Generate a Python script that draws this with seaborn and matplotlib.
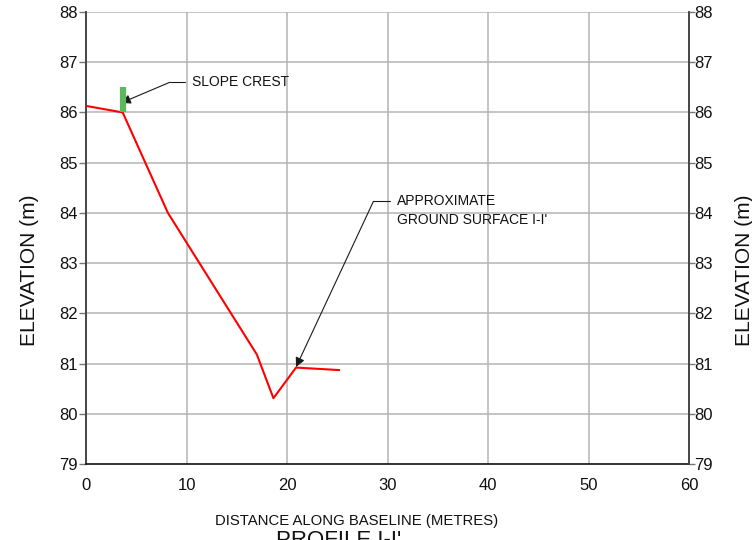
import matplotlib
matplotlib.use("Agg")
import matplotlib.pyplot as plt
import seaborn as sns
import pandas as pd

# ground surface profile I-I'
distance = [0.0, 3.65, 8.15, 17.0, 18.65, 20.9, 25.2]
elevation = [86.13, 86.0, 84.0, 81.18, 80.31, 80.92, 80.87]

# slope crest marker
crest_x = [3.65]
crest_bottom = [86.0]
crest_top = [86.5]

x_ticks = [0, 10, 20, 30, 40, 50, 60]
y_ticks = [79, 80, 81, 82, 83, 84, 85, 86, 87, 88]

df = pd.DataFrame({"Distance": distance, "Elevation": elevation})

sns.set_theme(style="white")
plt.rcParams["font.family"] = ["Liberation Sans", "DejaVu Sans"]

fig = plt.figure(figsize=(7.52, 5.40), dpi=100)
ax = fig.add_axes([86 / 752, 1 - 464 / 540, (689 - 86) / 752, (464 - 12) / 540])

grid_c = "#b4b4b4"
for xv in x_ticks[1:-1]:
    ax.axvline(xv, color=grid_c, lw=1.1, zorder=0)
for yv in y_ticks[1:]:
    ax.axhline(yv, color=grid_c, lw=1.1, zorder=0)

sns.lineplot(data=df, x="Distance", y="Elevation", sort=False, color="#ff0000",
             lw=1.5, ax=ax, zorder=3)
ax.vlines(crest_x, crest_bottom, crest_top, color="#5cb85c", lw=4.5, zorder=4)

ax.set_xlim(0, 60)
ax.set_ylim(79, 88)
ax.set_xticks(x_ticks)
ax.set_yticks(y_ticks)
ax.set_xlabel("")
ax.set_ylabel("")
ax.tick_params(axis="x", length=0, pad=10, labelsize=12, colors="#111111")
ax.tick_params(axis="y", length=5, width=1, color="#777777", pad=1, labelsize=12,
               labelcolor="#111111", left=True)
ax.spines["top"].set_visible(False)
ax.spines["left"].set_color("#444444")
ax.spines["left"].set_linewidth(1.4)
ax.spines["right"].set_color("#444444")
ax.spines["right"].set_linewidth(1.2)
ax.spines["bottom"].set_color("#111111")
ax.spines["bottom"].set_linewidth(1.2)

ax2 = ax.twinx()
ax2.set_ylim(79, 88)
ax2.set_yticks(y_ticks)
ax2.tick_params(axis="y", length=4, width=1, color="#777777", pad=0, labelsize=12,
                labelcolor="#111111", right=True)
for s in ["top", "left", "bottom"]:
    ax2.spines[s].set_visible(False)
ax2.spines["right"].set_color("#444444")
ax2.spines["right"].set_linewidth(1.2)

# annotations
ax.plot([8.33, 9.9], [86.6, 86.6], color="k", lw=0.8)
ax.annotate("", xy=(3.5, 86.19), xytext=(8.33, 86.6),
            arrowprops=dict(arrowstyle="-|>", color="k", lw=0.8, mutation_scale=14,
                            shrinkA=0, shrinkB=0))
ax.text(10.5, 86.6, "SLOPE CREST", fontsize=10, va="center", ha="left", color="#111111")

ax.plot([28.6, 30.2], [84.23, 84.23], color="k", lw=0.8)
ax.annotate("", xy=(20.9, 80.93), xytext=(28.6, 84.23),
            arrowprops=dict(arrowstyle="-|>", color="k", lw=0.8, mutation_scale=14,
                            shrinkA=0, shrinkB=0))
ax.text(30.9, 84.23, "APPROXIMATE", fontsize=10, va="center", ha="left", color="#111111")
ax.text(30.9, 83.86, "GROUND SURFACE I-I'", fontsize=10, va="center", ha="left",
        color="#111111")

fig.text(30 / 752, 1 - 270 / 540, "ELEVATION (m)", rotation=90, fontsize=15,
         ha="center", va="center", color="#111111")
fig.text(744 / 752, 1 - 270 / 540, "ELEVATION (m)", rotation=90, fontsize=15,
         ha="center", va="center", color="#111111")
fig.text(357 / 752, 1 - 521 / 540, "DISTANCE ALONG BASELINE (METRES)", fontsize=10.7,
         ha="center", va="center", color="#111111")
fig.text(339 / 752, 1 - 530 / 540, "PROFILE I-I'", fontsize=16,
         ha="center", va="top", color="#111111")

fig.savefig("out.png", dpi=100)
